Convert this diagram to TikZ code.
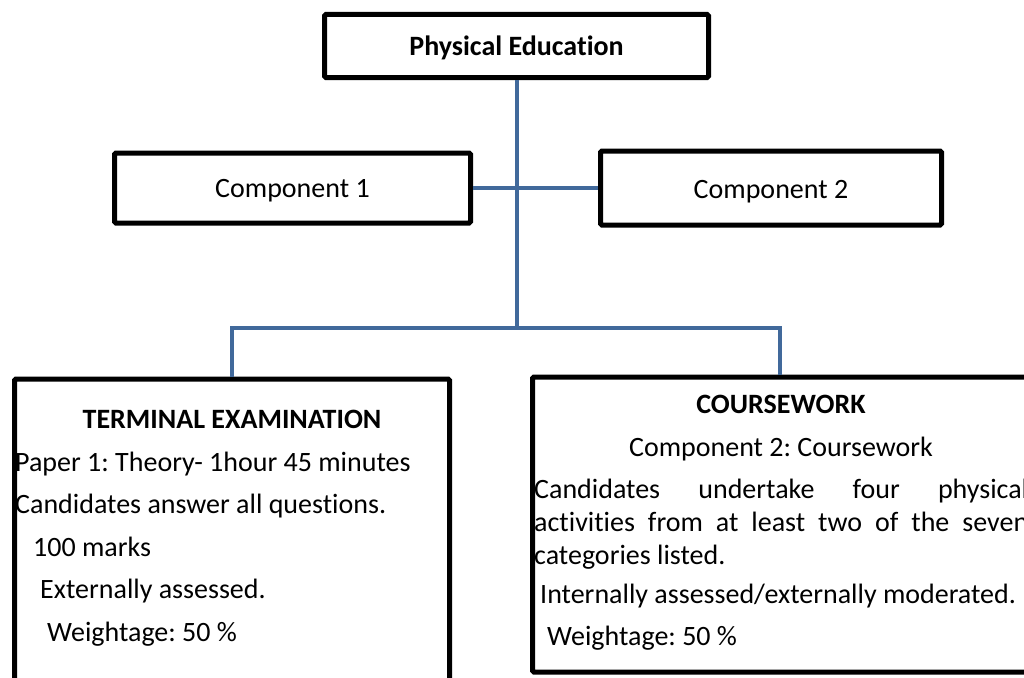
\documentclass[tikz,border=0pt]{standalone}
\usepackage{fontspec}
\setmainfont[Ligatures=NoCommon]{Carlito}
\frenchspacing
\definecolor{linkblue}{RGB}{65,105,155}

\begin{document}
\begin{tikzpicture}[x=1pt, y=-1pt,
    box/.style={draw, line width=5pt, rounded corners=1.5pt, inner sep=0pt},
    link/.style={draw=linkblue, line width=4pt},
    txt/.style={anchor=base west, inner sep=0pt},
    every node/.style={font=\fontsize{28}{33}\selectfont}]

    \clip (0,0) rectangle (1024,677);
    \fill[white] (0,0) rectangle (1024,677);

    % top and component boxes
    \node[box, minimum width=384pt, minimum height=63pt] (pe) at (516.5,46) {};
    \node[anchor=base, inner sep=0pt] (pe-title) at (516.5,56) {\bfseries Physical Education};
    \node[box, minimum width=356pt, minimum height=70pt] (comp1) at (292.5,188) {};
    \node[anchor=base, inner sep=0pt] (comp1-text) at (292.5,197) {Component 1};
    \node[box, minimum width=341pt, minimum height=74pt] (comp2) at (771,188) {};
    \node[anchor=base, inner sep=0pt] (comp2-text) at (771,198) {Component 2};

    % the two big boxes
    \node[box, minimum width=435pt, minimum height=330pt, anchor=north] (exam) at (232,376.5) {};
    \node[box, minimum width=495pt, minimum height=295pt, anchor=north] (cw) at (780,374.5) {};

    % connectors
    \coordinate (split) at (516.5,328);
    \draw[link] (pe.south) -- (split);
    \draw[link] (comp1.east) -- (comp2.west);
    \draw[link] (exam.north) |- (split) -| (cw.north);

    % terminal examination
    \node[anchor=base, inner sep=0pt] (exam-title) at (232,428) {\bfseries TERMINAL EXAMINATION};
    \node[txt] (exam-paper) at (15,471) {Paper 1: Theory- 1hour 45 minutes};
    \node[txt] (exam-all) at (15,513.5) {Candidates answer all questions.};
    \node[txt] (exam-marks) at (33,556) {100 marks};
    \node[txt] (exam-ext) at (40,598.5) {Externally assessed.};
    \node[txt] (exam-weight) at (47,641) {Weightage: 50 \%};

    % coursework
    \node[anchor=base, inner sep=0pt] (cw-title) at (781,413) {\bfseries COURSEWORK};
    \node[anchor=base, inner sep=0pt] (cw-sub) at (781,456) {Component 2: Coursework};
    \node[txt, text width=494pt, align=justify] (cw-act) at (534,498)
        {\hyphenpenalty=10000 Candidates undertake four physical\linebreak
         activities from at least two of the seven\linebreak categories listed.};
    \node[txt] (cw-int) at (540,603) {Internally assessed/externally moderated.};
    \node[txt] (cw-weight) at (547,645) {Weightage: 50 \%};

\end{tikzpicture}
\end{document}
